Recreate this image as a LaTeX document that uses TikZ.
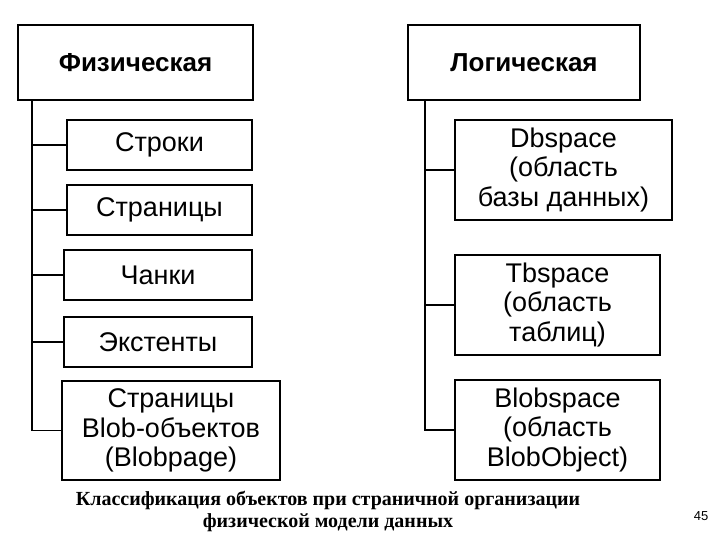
\documentclass[tikz,border=0pt]{standalone}
\usepackage{fontspec}
\setmainfont{Liberation Sans}
\newfontfamily\capfont{Liberation Serif}
\begin{document}
\begin{tikzpicture}[x=1pt,y=-1pt,
  bx/.style={draw=black,line width=2.5pt,fill=white,align=center,inner sep=0pt,font=\fontsize{27}{29.5}\selectfont},
  hd/.style={bx,font=\fontsize{26}{29}\selectfont\bfseries},
  ln/.style={line width=1.2pt}]
\useasboundingbox (0,0) rectangle (720,540);
\node[hd,minimum width=235,minimum height=75] (fiz) at (135.5,62.5) {Физическая};
\node[bx,minimum width=185,minimum height=50] (s1) at (159.5,145) {Строки};
\node[bx,minimum width=185,minimum height=50] (s2) at (159.5,210) {Страницы};
\node[bx,minimum width=188,minimum height=50] (s3) at (158,275) {Чанки};
\node[bx,minimum width=188,minimum height=50] (s4) at (158,342) {Экстенты};
\node[bx,minimum width=218,minimum height=99] (s5) at (171,430.5) {Страницы\\Blob-объектов\\(Blobpage)};
\node[hd,minimum width=232,minimum height=75] (log) at (524,62.5) {Логическая};
\node[bx,minimum width=217,minimum height=100] (d1) at (563.5,170) {Dbspace\\(область\\базы данных)};
\node[bx,minimum width=205,minimum height=100] (d2) at (557.5,305) {Tbspace\\(область\\таблиц)};
\node[bx,minimum width=205,minimum height=100] (d3) at (557.5,430) {Blobspace\\(область\\BlobObject)};
\coordinate (fb) at (32,100);
\coordinate (lb) at (425,100);
\draw[ln] (fb) |- (s5.west);
\foreach \n in {s1,s2,s3,s4} \draw[ln] (fb |- \n.west) -- (\n.west);
\draw[ln] (lb) |- (d3.west);
\foreach \n in {d1,d2} \draw[ln] (lb |- \n.west) -- (\n.west);
\node[font=\capfont\bfseries\fontsize{20}{22}\selectfont,align=center] (cap) at (328,511) {Классификация объектов при страничной организации\\физической модели данных};
\node[font=\fontsize{13}{15}\selectfont] (pg) at (701,516) {45};
\end{tikzpicture}
\end{document}
